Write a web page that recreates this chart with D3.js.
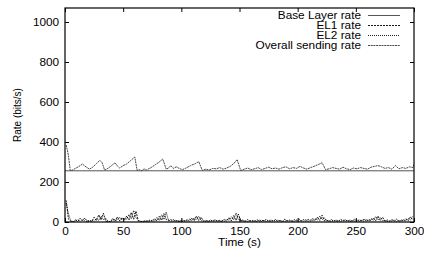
<!DOCTYPE html>
<html>
<head>
<meta charset="utf-8">
<script src="https://cdn.jsdelivr.net/npm/d3@7"></script>
<style>
  body { margin: 0; background: #fff; }
  text { font-family: "Liberation Sans", Arial, Helvetica, sans-serif; }
</style>
</head>
<body>
<div id="chart"></div>
<script>
// data
const xTicks = [0, 50, 100, 150, 200, 250, 300];
const yTicks = [0, 200, 400, 600, 800, 1000];
const seriesNames = ["Base Layer rate", "EL1 rate", "EL2 rate", "Overall sending rate"];

const baseTime = [0, 300];
const baseRate = [256, 256];

// overall sending rate, vertices of the sawtooth
const overallTime = [1, 2, 3, 4.5, 6, 9, 12, 15, 17, 19, 21, 24, 27, 30, 32, 34, 37, 40, 43, 45, 47, 50, 53, 56, 60, 62, 64, 66, 68, 70,
  74, 78, 81, 84, 87, 89, 91, 93, 96, 98, 101, 104, 108, 112, 115, 118, 121, 124, 127, 130, 133, 136, 139, 142, 145, 148, 151,
  154, 157, 160, 163, 166, 169, 172, 175, 178, 181, 184, 187, 190, 193, 196, 199, 202, 205, 208, 211, 214, 218, 221, 224,
  227, 230, 233, 236, 239, 242, 245, 248, 251, 254, 257, 260, 263, 266, 269, 272, 275, 278, 281, 284, 287, 290, 293, 296, 299, 300];
const overallRate = [385, 360, 330, 258, 258, 268, 278, 290, 280, 272, 264, 275, 292, 308, 296, 260, 268, 282, 296, 280, 270, 282, 290, 305, 325, 258, 262, 256, 266, 260,
  272, 288, 300, 315, 264, 270, 282, 268, 276, 268, 262, 270, 282, 292, 302, 258, 264, 260, 268, 266, 272, 264, 270, 278, 292, 312, 258,
  264, 270, 262, 266, 272, 262, 268, 274, 266, 270, 264, 272, 276, 266, 272, 268, 278, 270, 264, 272, 278, 288, 296, 262,
  266, 272, 268, 264, 274, 266, 262, 270, 266, 272, 268, 264, 274, 278, 282, 276, 268, 272, 264, 282, 266, 272, 268, 276, 272, 290];

// enhancement layers, sampled every 2 s (t = 1, 3, ..., 299)
const elTime = d3.range(1, 300, 2);
const el1Rate = [108, 14, 4, 0, 10, 3, 18, 6, 20, 4, 8, 2, 24, 6, 36, 10, 44, 4, 2, 0,
  18, 4, 26, 6, 22, 8, 30, 10, 48, 14, 54, 6, 4, 0, 8, 2, 10, 4, 16, 6,
  28, 8, 42, 12, 10, 3, 12, 4, 8, 2, 10, 3, 12, 4, 20, 6, 30, 8, 24, 4,
  8, 2, 10, 3, 12, 4, 8, 2, 14, 4, 22, 6, 32, 8, 40, 6, 10, 3, 12, 4,
  8, 2, 12, 3, 10, 4, 14, 3, 10, 4, 12, 3, 8, 2, 14, 4, 10, 3, 12, 4,
  16, 4, 12, 3, 14, 4, 18, 6, 24, 8, 34, 6, 10, 3, 12, 4, 10, 2, 14, 4,
  12, 3, 10, 4, 14, 3, 12, 4, 16, 4, 12, 6, 20, 6, 30, 8, 24, 4, 10, 3,
  12, 4, 14, 3, 10, 4, 16, 6, 26, 10];
const el2Rate = [95, 40, 6, 2, 6, 12, 4, 14, 6, 2, 4, 8, 4, 18, 8, 30, 12, 20, 4, 2,
  6, 14, 8, 24, 10, 18, 14, 38, 16, 58, 22, 8, 2, 4, 2, 6, 3, 10, 4, 22,
  8, 36, 12, 50, 6, 14, 3, 8, 2, 6, 3, 8, 4, 14, 6, 22, 10, 28, 6, 4,
  2, 6, 3, 8, 4, 6, 2, 8, 4, 14, 8, 26, 10, 46, 12, 8, 3, 6, 2, 8,
  3, 6, 2, 10, 3, 8, 2, 6, 3, 8, 4, 10, 3, 6, 2, 8, 4, 6, 2, 10,
  3, 8, 4, 12, 3, 10, 6, 16, 10, 30, 12, 20, 4, 6, 2, 8, 3, 6, 2, 10,
  4, 8, 2, 6, 4, 10, 3, 8, 4, 12, 6, 18, 8, 28, 10, 22, 6, 8, 2, 6,
  4, 10, 3, 8, 4, 12, 6, 18, 10, 28];

// dimensions
const width = 424;
const height = 256;
const margin = { top: 8, right: 10, bottom: 34, left: 65 };
const fontSize = 10;
const stretch = 1.18; // the picture's text is wider than it is tall

const svg = d3.select("#chart")
  .append("svg")
  .attr("width", width)
  .attr("height", height);

const x = d3.scaleLinear().domain([0, 300]).range([margin.left, width - margin.right]);
const y = d3.scaleLinear().domain([0, 1070]).range([height - margin.bottom, margin.top]);

// axes, ticks point inward on all four sides
function styleAxis(g) {
  g.select(".domain").remove();
  g.selectAll("line").attr("stroke", "#000");
  g.selectAll("text")
    .attr("fill", "#000")
    .style("font-size", fontSize + "px")
    .attr("transform", `scale(${stretch},1)`);
}

svg.append("g")
  .attr("transform", `translate(${margin.left},0)`)
  .call(d3.axisLeft(y).tickValues(yTicks).tickFormat(d3.format("d")).tickSize(-4).tickPadding(5))
  .call(styleAxis)
  .selectAll("text").attr("x", -5);

svg.append("g")
  .attr("transform", `translate(${width - margin.right},0)`)
  .call(d3.axisRight(y).tickValues(yTicks).tickSize(-4).tickFormat(""))
  .call(styleAxis);

svg.append("g")
  .attr("transform", `translate(0,${height - margin.bottom})`)
  .call(d3.axisBottom(x).tickValues(xTicks).tickFormat(d3.format("d")).tickSize(-4).tickPadding(6))
  .call(styleAxis);

svg.append("g")
  .attr("transform", `translate(0,${margin.top})`)
  .call(d3.axisTop(x).tickValues(xTicks).tickSize(-4).tickFormat(""))
  .call(styleAxis);

// lines
const line = d3.line().x((d) => x(d[0])).y((d) => y(d[1]));
const styles = [
  { stroke: "#555", width: 1, dash: null },
  { stroke: "#000", width: 0.9, dash: "2,1" },
  { stroke: "#000", width: 0.9, dash: "1,1" },
  { stroke: "#333", width: 0.9, dash: "2,0.7" }
];

const series = [
  d3.zip(baseTime, baseRate),
  d3.zip(elTime, el1Rate),
  d3.zip(elTime, el2Rate),
  d3.zip(overallTime, overallRate)
];

const plot = svg.append("g");
plot.append("clipPath").attr("id", "clip")
  .append("rect")
  .attr("x", margin.left).attr("y", margin.top)
  .attr("width", width - margin.left - margin.right)
  .attr("height", height - margin.top - margin.bottom);

plot.selectAll("path.series")
  .data(series)
  .enter()
  .append("path")
  .attr("class", "series")
  .attr("clip-path", "url(#clip)")
  .attr("d", line)
  .attr("fill", "none")
  .attr("stroke", (d, i) => styles[i].stroke)
  .attr("stroke-width", (d, i) => styles[i].width)
  .attr("stroke-dasharray", (d, i) => styles[i].dash);

// frame
svg.append("rect")
  .attr("x", margin.left)
  .attr("y", margin.top)
  .attr("width", width - margin.left - margin.right)
  .attr("height", height - margin.top - margin.bottom)
  .attr("fill", "none")
  .attr("stroke", "#000")
  .attr("stroke-width", 1.2);

// legend
const legend = svg.append("g");
seriesNames.forEach((name, i) => {
  const ly = 15.5 + i * 10;
  legend.append("text")
    .attr("transform", `translate(361,${ly + 3.5}) scale(${stretch},1)`)
    .attr("text-anchor", "end")
    .style("font-size", fontSize + "px")
    .text(name);
  legend.append("line")
    .attr("x1", 368).attr("x2", 400)
    .attr("y1", ly).attr("y2", ly)
    .attr("stroke", styles[i].stroke)
    .attr("stroke-width", styles[i].width)
    .attr("stroke-dasharray", styles[i].dash);
});

// axis titles
svg.append("text")
  .attr("transform", `translate(${(margin.left + width - margin.right) / 2},246) scale(${stretch},1)`)
  .attr("text-anchor", "middle")
  .style("font-size", fontSize + "px")
  .text("Time (s)");

svg.append("text")
  .attr("transform", `translate(21,${(margin.top + height - margin.bottom) / 2}) rotate(-90) scale(1,${stretch})`)
  .attr("text-anchor", "middle")
  .style("font-size", fontSize + "px")
  .text("Rate (bits/s)");
</script>
</body>
</html>
